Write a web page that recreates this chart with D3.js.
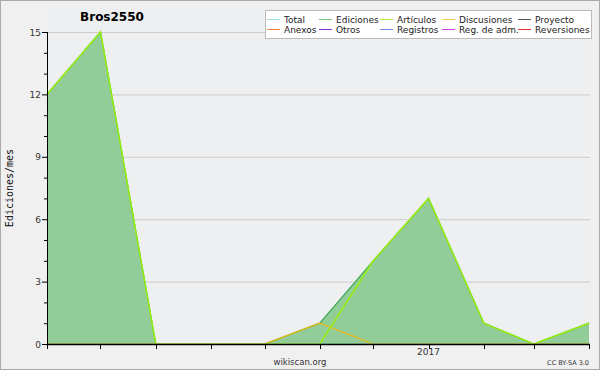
<!DOCTYPE html>
<html>
<head>
<meta charset="utf-8">
<script src="https://cdn.jsdelivr.net/npm/d3@7"></script>
<style>
  body { margin: 0; background: #fff; }
  svg { display: block; }
</style>
</head>
<body>
<svg id="chart" width="600" height="370"></svg>
<script>
// months shown on the x axis (one point per month)
var months = ["2016-06", "2016-07", "2016-08", "2016-09", "2016-10", "2016-11",
              "2016-12", "2017-01", "2017-02", "2017-03", "2017-04"];
// edits per month
var total       = [12, 15, 0, 0, 0, 1, 4, 7, 1, 0, 1];
var ediciones   = [12, 15, 0, 0, 0, 1, 4, 7, 1, 0, 1];
var articulos   = [12, 15, 0, 0, 0, 0, 4, 7, 1, 0, 1];
var discusiones = [0, 0, 0, 0, 0, 1, 0, 0, 0, 0, 0];
var yTicks = [0, 3, 6, 9, 12, 15];

var legendItems = [
  ["Total", "#99e0dc"], ["Ediciones", "#77c777"], ["Artículos", "#b2ee33"],
  ["Discusiones", "#f5cc44"], ["Proyecto", "#555555"],
  ["Anexos", "#f08844"], ["Otros", "#8833dd"], ["Registros", "#7788ee"],
  ["Reg. de adm.", "#cc44dd"], ["Reversiones", "#ee3333"]
];

var svg = d3.select("#chart");
var W = 600, H = 370;
var mLeft = 47, mRight = 589, mTop = 32, mBottom = 344;

var parse = d3.timeParse("%Y-%m");
var dates = months.map(parse);

var x = d3.scaleTime().domain(d3.extent(dates)).range([mLeft, mRight]);
var y = d3.scaleLinear().domain([0, 15]).range([mBottom, mTop]);

// lines stop at the axis, like the original
svg.append("defs").append("clipPath").attr("id", "plotclip")
  .append("rect").attr("x", 0).attr("y", 0).attr("width", W).attr("height", mBottom - 0.5);

// background + frame
svg.append("rect").attr("x", 0.5).attr("y", 0.5).attr("width", W - 1).attr("height", H - 1)
  .attr("fill", "#f0f0f1").attr("stroke", "#aaaaaa");
svg.append("rect").attr("x", mLeft).attr("y", 2).attr("width", mRight - mLeft + 2).attr("height", mBottom - 2)
  .attr("fill", "#eeeff1");

// grid
svg.selectAll("line.grid").data(yTicks.filter(d => d > 0)).enter().append("line")
  .attr("class", "grid")
  .attr("x1", mLeft).attr("x2", mRight + 1)
  .attr("y1", d => y(d) + 0.5).attr("y2", d => y(d) + 0.5)
  .attr("stroke", "#cccccc").attr("stroke-width", 1);

function series(arr) {
  return arr.map((v, i) => ({ date: dates[i], value: v }));
}

// filled area of edits
var area = d3.area().x(d => x(d.date)).y0(y(0)).y1(d => y(d.value));
svg.append("path").datum(series(total))
  .attr("d", area).attr("fill", "#92cc98");

var line = d3.line().x(d => x(d.date)).y(d => y(d.value));
var lines = svg.append("g").attr("clip-path", "url(#plotclip)");
lines.append("path").datum(series(total))
  .attr("d", line).attr("fill", "none").attr("stroke", "#99e0dc").attr("stroke-width", 1);
lines.append("path").datum(series(ediciones))
  .attr("d", line).attr("fill", "none").attr("stroke", "#44aa55").attr("stroke-width", 1.3);
lines.append("path").datum(series(discusiones))
  .attr("d", line).attr("fill", "none").attr("stroke", "#eebb11").attr("stroke-width", 1.3);
lines.append("path").datum(series(articulos))
  .attr("d", line).attr("fill", "none").attr("stroke", "#99ee11").attr("stroke-width", 1.5);

// y axis
var gy = svg.append("g").attr("transform", "translate(" + mLeft + ",0)");
gy.append("line").attr("x1", 0.5).attr("x2", 0.5).attr("y1", mTop).attr("y2", mBottom)
  .attr("stroke", "#000");
gy.selectAll("line.minor").data(d3.range(0, 16)).enter().append("line")
  .attr("x1", d => yTicks.includes(d) ? -5 : -3).attr("x2", 0)
  .attr("y1", d => y(d) + 0.5).attr("y2", d => y(d) + 0.5)
  .attr("stroke", "#000");
gy.selectAll("text").data(yTicks).enter().append("text")
  .attr("x", -6).attr("y", d => y(d) + 3.5)
  .attr("text-anchor", "end")
  .attr("font-family", "DejaVu Sans")
  .attr("font-size", 9)
  .attr("fill", "#333")
  .text(d => d);

// x axis
var gx = svg.append("g").attr("transform", "translate(0," + mBottom + ")");
gx.append("line").attr("x1", mLeft).attr("x2", mRight + 1).attr("y1", 0.5).attr("y2", 0.5)
  .attr("stroke", "#000").attr("stroke-width", 1.5);
gx.selectAll("line.tick").data(dates).enter().append("line")
  .attr("x1", d => Math.round(x(d)) + 0.5).attr("x2", d => Math.round(x(d)) + 0.5)
  .attr("y1", 0).attr("y2", 5)
  .attr("stroke", "#000");
gx.selectAll("text").data(dates.filter(d => d.getMonth() === 0)).enter().append("text")
  .attr("x", d => x(d)).attr("y", 11)
  .attr("text-anchor", "middle")
  .attr("font-family", "DejaVu Sans")
  .attr("font-size", 9)
  .attr("fill", "#333")
  .text(d => d3.timeFormat("%Y")(d));

// y label
svg.append("text")
  .attr("transform", "translate(13," + (mTop + mBottom) / 2 + ") rotate(-90)")
  .attr("text-anchor", "middle")
  .attr("font-family", "DejaVu Sans Mono")
  .attr("font-size", 10)
  .attr("fill", "#111")
  .text("Ediciones/mes");

// title
svg.append("text")
  .attr("x", 112).attr("y", 21)
  .attr("text-anchor", "middle")
  .attr("font-family", "DejaVu Sans")
  .attr("font-weight", "bold")
  .attr("font-size", 12)
  .attr("fill", "#000")
  .text("Bros2550");

// legend
var lg = svg.append("g");
lg.append("rect").attr("x", 265.5).attr("y", 10.5).attr("width", 326).attr("height", 28)
  .attr("fill", "#fff").attr("stroke", "#bbb");
var colX = [267, 319, 380, 442, 518];
legendItems.forEach(function(item, i) {
  var cx = colX[i % 5], cy = i < 5 ? 19 : 29;
  lg.append("line").attr("x1", cx).attr("x2", cx + 13).attr("y1", cy + 0.5).attr("y2", cy + 0.5)
    .attr("stroke", item[1]).attr("stroke-width", 1);
  lg.append("text").attr("x", cx + 17).attr("y", cy + 3.5)
    .attr("font-family", "DejaVu Sans")
    .attr("font-size", 9)
    .attr("fill", "#222")
    .text(item[0]);
});

// footer
svg.append("text").attr("x", 300).attr("y", 365).attr("text-anchor", "middle")
  .attr("font-family", "DejaVu Sans").attr("font-size", 8.5).attr("fill", "#333")
  .text("wikiscan.org");
svg.append("text").attr("x", 589).attr("y", 365).attr("text-anchor", "end")
  .attr("font-family", "DejaVu Sans").attr("font-size", 6.5).attr("fill", "#333")
  .text("CC BY-SA 3.0");
</script>
</body>
</html>
